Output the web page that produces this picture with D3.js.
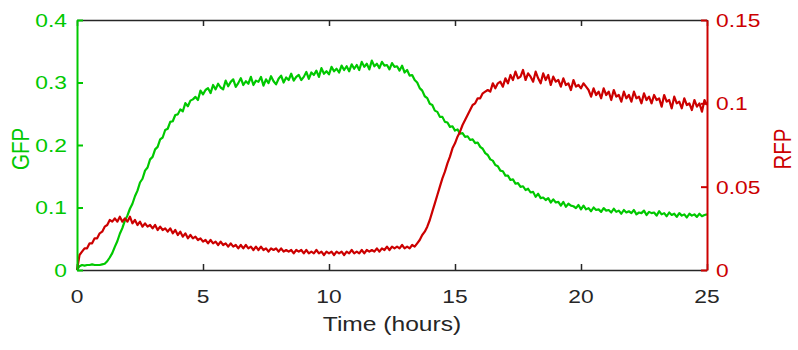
<!DOCTYPE html>
<html>
<head>
<meta charset="utf-8">
<script src="https://cdn.jsdelivr.net/npm/d3@7/dist/d3.min.js"></script>
<style>
  html, body { margin: 0; padding: 0; background: #fff; }
  svg { display: block; }
  text { font-family: "Liberation Sans", Arial, Helvetica, sans-serif; }
</style>
</head>
<body>
<svg id="chart" width="798" height="350"></svg>
<script>
// Fluorescence readings, one sample every 0.1 h from 0 to 25 h
const sampleStepHours = 0.1;

const gfpValues = [
  0.000, 0.006, 0.008, 0.007, 0.008, 0.008, 0.009, 0.008, 0.008, 0.008,
  0.009, 0.010, 0.014, 0.020, 0.027, 0.037, 0.046, 0.058, 0.067, 0.079,
  0.087, 0.098, 0.106, 0.118, 0.127, 0.140, 0.146, 0.159, 0.164, 0.177,
  0.181, 0.193, 0.197, 0.209, 0.212, 0.224, 0.226, 0.237, 0.238, 0.248,
  0.249, 0.257, 0.254, 0.267, 0.262, 0.271, 0.273, 0.277, 0.272, 0.287,
  0.281, 0.288, 0.291, 0.283, 0.296, 0.289, 0.298, 0.292, 0.289, 0.303,
  0.294, 0.301, 0.305, 0.293, 0.299, 0.307, 0.296, 0.302, 0.298, 0.309,
  0.296, 0.303, 0.301, 0.309, 0.295, 0.305, 0.299, 0.310, 0.302, 0.297,
  0.306, 0.311, 0.300, 0.308, 0.304, 0.314, 0.303, 0.309, 0.312, 0.304,
  0.309, 0.317, 0.306, 0.316, 0.312, 0.319, 0.309, 0.323, 0.314, 0.318,
  0.313, 0.325, 0.318, 0.322, 0.316, 0.327, 0.320, 0.326, 0.318, 0.329,
  0.322, 0.328, 0.320, 0.333, 0.325, 0.330, 0.321, 0.335, 0.326, 0.330,
  0.323, 0.333, 0.327, 0.328, 0.321, 0.331, 0.325, 0.326, 0.319, 0.327,
  0.316, 0.320, 0.311, 0.312, 0.304, 0.300, 0.291, 0.287, 0.278, 0.275,
  0.266, 0.264, 0.255, 0.253, 0.245, 0.245, 0.237, 0.236, 0.229, 0.230,
  0.223, 0.225, 0.218, 0.219, 0.213, 0.214, 0.208, 0.209, 0.203, 0.204,
  0.197, 0.194, 0.187, 0.184, 0.177, 0.175, 0.168, 0.166, 0.159, 0.158,
  0.151, 0.151, 0.144, 0.145, 0.138, 0.139, 0.133, 0.134, 0.128, 0.130,
  0.124, 0.125, 0.117, 0.122, 0.115, 0.116, 0.112, 0.115, 0.108, 0.113,
  0.108, 0.109, 0.103, 0.109, 0.101, 0.106, 0.103, 0.102, 0.099, 0.104,
  0.097, 0.103, 0.097, 0.099, 0.094, 0.100, 0.096, 0.097, 0.093, 0.099,
  0.095, 0.096, 0.092, 0.098, 0.093, 0.095, 0.090, 0.096, 0.092, 0.094,
  0.091, 0.096, 0.089, 0.092, 0.091, 0.095, 0.088, 0.093, 0.091, 0.092,
  0.087, 0.094, 0.089, 0.091, 0.086, 0.092, 0.088, 0.090, 0.085, 0.091,
  0.087, 0.089, 0.084, 0.090, 0.087, 0.089, 0.085, 0.090, 0.086, 0.088,
  0.089
];

const rfpValues = [
  0.000, 0.009, 0.011, 0.013, 0.013, 0.016, 0.016, 0.019, 0.019, 0.022,
  0.023, 0.026, 0.027, 0.030, 0.029, 0.031, 0.029, 0.032, 0.029, 0.031,
  0.029, 0.032, 0.028, 0.030, 0.027, 0.029, 0.026, 0.028, 0.026, 0.027,
  0.025, 0.027, 0.024, 0.026, 0.024, 0.025, 0.023, 0.025, 0.022, 0.024,
  0.021, 0.023, 0.020, 0.022, 0.019, 0.021, 0.019, 0.020, 0.018, 0.019,
  0.017, 0.018, 0.016, 0.018, 0.016, 0.017, 0.015, 0.017, 0.015, 0.016,
  0.014, 0.016, 0.014, 0.015, 0.013, 0.015, 0.013, 0.015, 0.013, 0.014,
  0.012, 0.014, 0.012, 0.014, 0.012, 0.013, 0.011, 0.013, 0.012, 0.013,
  0.011, 0.013, 0.011, 0.012, 0.011, 0.012, 0.010, 0.012, 0.011, 0.012,
  0.010, 0.012, 0.010, 0.011, 0.010, 0.012, 0.010, 0.011, 0.009, 0.011,
  0.010, 0.011, 0.009, 0.011, 0.010, 0.011, 0.009, 0.011, 0.010, 0.012,
  0.010, 0.011, 0.010, 0.012, 0.010, 0.012, 0.011, 0.012, 0.011, 0.013,
  0.011, 0.013, 0.012, 0.014, 0.012, 0.014, 0.013, 0.014, 0.013, 0.015,
  0.013, 0.014, 0.013, 0.015, 0.014, 0.016, 0.018, 0.021, 0.023, 0.026,
  0.030, 0.035, 0.040, 0.045, 0.050, 0.055, 0.059, 0.064, 0.068, 0.073,
  0.076, 0.080, 0.083, 0.087, 0.090, 0.093, 0.096, 0.099, 0.100, 0.103,
  0.103, 0.106, 0.107, 0.108, 0.107, 0.112, 0.109, 0.112, 0.113, 0.110,
  0.115, 0.112, 0.117, 0.114, 0.119, 0.115, 0.116, 0.120, 0.114, 0.118,
  0.116, 0.113, 0.119, 0.115, 0.112, 0.118, 0.114, 0.117, 0.111, 0.116,
  0.113, 0.114, 0.110, 0.115, 0.111, 0.112, 0.108, 0.114, 0.110, 0.111,
  0.109, 0.112, 0.110, 0.108, 0.104, 0.109, 0.105, 0.107, 0.103, 0.109,
  0.105, 0.107, 0.102, 0.108, 0.104, 0.105, 0.101, 0.107, 0.103, 0.105,
  0.101, 0.107, 0.103, 0.104, 0.100, 0.106, 0.102, 0.104, 0.100, 0.105,
  0.102, 0.103, 0.098, 0.105, 0.101, 0.102, 0.097, 0.104, 0.100, 0.101,
  0.097, 0.103, 0.099, 0.100, 0.096, 0.102, 0.098, 0.100, 0.095, 0.102,
  0.099
];

const timeTicks = [0, 5, 10, 15, 20, 25];
const gfpTicks = [0, 0.1, 0.2, 0.3, 0.4];
const rfpTicks = [0, 0.05, 0.1, 0.15];
const gfpTickLabels = ["0", "0.1", "0.2", "0.3", "0.4"];
const rfpTickLabels = ["0", "0.05", "0.1", "0.15"];

const GREEN = "#00c800";
const RED = "#cc0000";
const DARK = "#262626";

const svg = d3.select("#chart");
const plot = { left: 77, right: 707, top: 20, bottom: 270 };

const x = d3.scaleLinear().domain([0, 25]).range([plot.left, plot.right]);
const yGfp = d3.scaleLinear().domain([0, 0.4]).range([plot.bottom, plot.top]);
const yRfp = d3.scaleLinear().domain([0, 0.15]).range([plot.bottom, plot.top]);

const gfpSeries = gfpValues.map((v, i) => ({ t: i * sampleStepHours, v }));
const rfpSeries = rfpValues.map((v, i) => ({ t: i * sampleStepHours, v }));

// Traces
const gfpLine = d3.line().x(d => x(d.t)).y(d => yGfp(d.v));
const rfpLine = d3.line().x(d => x(d.t)).y(d => yRfp(d.v));

svg.append("path").datum(gfpSeries)
  .attr("d", gfpLine)
  .attr("fill", "none").attr("stroke", GREEN)
  .attr("stroke-width", 2.2).attr("stroke-linejoin", "round");

svg.append("path").datum(rfpSeries)
  .attr("d", rfpLine)
  .attr("fill", "none").attr("stroke", RED)
  .attr("stroke-width", 2.2).attr("stroke-linejoin", "round");

// Bottom and top x axes (inward ticks)
const xBottom = svg.append("g")
  .attr("transform", `translate(0,${plot.bottom})`)
  .call(d3.axisBottom(x).tickValues(timeTicks).tickSizeInner(-6).tickSizeOuter(0).tickFormat(""));
const xTop = svg.append("g")
  .attr("transform", `translate(0,${plot.top})`)
  .call(d3.axisTop(x).tickValues(timeTicks).tickSizeInner(-6).tickSizeOuter(0).tickFormat(""));
[xBottom, xTop].forEach(g => {
  g.select(".domain").attr("stroke", DARK).attr("stroke-width", 1.5);
  g.selectAll(".tick line").attr("stroke", DARK).attr("stroke-width", 1.5);
});

// Left (GFP) axis
const yLeft = svg.append("g")
  .attr("transform", `translate(${plot.left},0)`)
  .call(d3.axisLeft(yGfp).tickValues(gfpTicks).tickSizeInner(-6).tickSizeOuter(0).tickFormat(""));
yLeft.select(".domain").attr("stroke", GREEN).attr("stroke-width", 2);
yLeft.selectAll(".tick line").attr("stroke", GREEN).attr("stroke-width", 2);

// Right (RFP) axis
const yRight = svg.append("g")
  .attr("transform", `translate(${plot.right},0)`)
  .call(d3.axisRight(yRfp).tickValues(rfpTicks).tickSizeInner(-6).tickSizeOuter(0).tickFormat(""));
yRight.select(".domain").attr("stroke", RED).attr("stroke-width", 2);
yRight.selectAll(".tick line").attr("stroke", RED).attr("stroke-width", 2);

// Text is set slightly wide (horizontal stretch)
const STRETCH = 1.2;
function label(px, py, str, opts) {
  const rot = opts.rotate || 0;
  const tf = rot
    ? `translate(${px},${py}) rotate(${rot}) scale(1,${STRETCH})`
    : `translate(${px},${py}) scale(${STRETCH},1)`;
  return svg.append("text")
    .attr("transform", tf)
    .attr("text-anchor", opts.anchor || "middle")
    .attr("dy", opts.dy || 0)
    .attr("font-size", opts.size)
    .attr("fill", opts.color)
    .text(str);
}

const tickSize = 19;
const titleSize = 20.5;

timeTicks.forEach(d => label(x(d), 303, d, { size: tickSize, color: DARK }));
gfpTicks.forEach((d, i) => label(plot.left - 10, yGfp(d), gfpTickLabels[i],
  { size: tickSize, color: GREEN, anchor: "end", dy: "0.36em" }));
rfpTicks.forEach((d, i) => label(plot.right + 9, yRfp(d), rfpTickLabels[i],
  { size: tickSize, color: RED, anchor: "start", dy: "0.36em" }));

// Axis titles
label((plot.left + plot.right) / 2, 331, "Time (hours)", { size: titleSize, color: DARK });
label(29, 149, "GFP", { size: titleSize, color: GREEN, rotate: -90 });
label(791, 149, "RFP", { size: titleSize, color: RED, rotate: -90 });
</script>
</body>
</html>
